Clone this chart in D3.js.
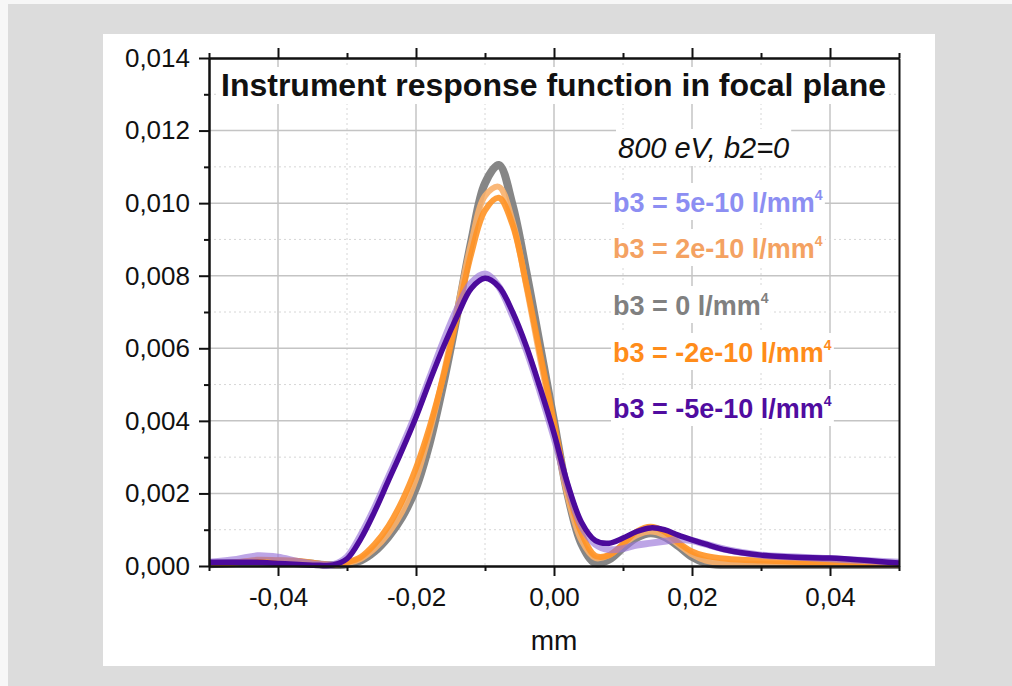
<!DOCTYPE html>
<html>
<head>
<meta charset="utf-8">
<script src="https://cdn.jsdelivr.net/npm/d3@7"></script>
<style>
body { margin: 0; background: #f7f7f7; }
svg { display: block; font-family: "Liberation Sans", Arial, sans-serif; }
</style>
</head>
<body>
<svg id="chart" width="1012" height="686"></svg>
<script>
// x positions in mm (shared by all curves)
var xVals = [-0.050, -0.046, -0.043, -0.040, -0.037, -0.034, -0.032, -0.030, -0.028, -0.026,
             -0.024, -0.022, -0.020, -0.018, -0.016, -0.014, -0.012, -0.010, -0.008, -0.006,
             -0.004, -0.002, 0.000, 0.002, 0.004, 0.006, 0.008, 0.010, 0.012, 0.014,
             0.016, 0.018, 0.020, 0.022, 0.025, 0.030, 0.035, 0.040, 0.045, 0.050];

// b3 = 0
var irfZero = [0.00005, 0.00008, 0.00010, 0.00012, 0.00010, 0.00004, 0.00002, 0.00005, 0.00015, 0.00040,
               0.00080, 0.00135, 0.00215, 0.00340, 0.00505, 0.00695, 0.00895, 0.01055, 0.01105, 0.00995,
               0.00810, 0.00605, 0.00400, 0.00195, 0.00060, 0.00008, 0.00018, 0.00050, 0.00078, 0.00090,
               0.00080, 0.00055, 0.00025, 0.00008, 0.00002, 0.00002, 0.00002, 0.00002, 0.00002, 0.00002];
// b3 = 2e-10
var irfPos2 = [0.00005, 0.00010, 0.00015, 0.00015, 0.00012, 0.00005, 0.00003, 0.00008, 0.00020, 0.00048,
               0.00090, 0.00150, 0.00240, 0.00370, 0.00530, 0.00710, 0.00890, 0.01020, 0.01045, 0.00950,
               0.00770, 0.00570, 0.00380, 0.00190, 0.00070, 0.00022, 0.00030, 0.00060, 0.00085, 0.00095,
               0.00085, 0.00060, 0.00032, 0.00015, 0.00008, 0.00006, 0.00005, 0.00004, 0.00004, 0.00003];
// b3 = -2e-10
var irfNeg2 = [0.00005, 0.00010, 0.00017, 0.00016, 0.00014, 0.00006, 0.00003, 0.00010, 0.00025, 0.00060,
               0.00110, 0.00180, 0.00270, 0.00385, 0.00525, 0.00690, 0.00860, 0.00980, 0.01015, 0.00940,
               0.00775, 0.00585, 0.00395, 0.00210, 0.00090, 0.00028, 0.00030, 0.00060, 0.00095, 0.00108,
               0.00095, 0.00065, 0.00040, 0.00028, 0.00020, 0.00015, 0.00012, 0.00010, 0.00008, 0.00005];
// b3 = 5e-10
var irfPos5 = [0.00010, 0.00018, 0.00028, 0.00024, 0.00012, 0.00004, 0.00004, 0.00025, 0.00085, 0.00160,
               0.00245, 0.00330, 0.00420, 0.00520, 0.00620, 0.00710, 0.00780, 0.00805, 0.00770, 0.00690,
               0.00595, 0.00480, 0.00355, 0.00215, 0.00110, 0.00060, 0.00045, 0.00048, 0.00058, 0.00063,
               0.00068, 0.00073, 0.00070, 0.00060, 0.00045, 0.00030, 0.00025, 0.00020, 0.00015, 0.00010];
// b3 = -5e-10
var irfNeg5 = [0.00010, 0.00010, 0.00010, 0.00007, 0.00004, 0.00002, 0.00003, 0.00020, 0.00075, 0.00150,
               0.00235, 0.00320, 0.00410, 0.00510, 0.00605, 0.00690, 0.00765, 0.00793, 0.00770, 0.00700,
               0.00605, 0.00490, 0.00366, 0.00225, 0.00120, 0.00070, 0.00063, 0.00077, 0.00095, 0.00105,
               0.00100, 0.00085, 0.00072, 0.00060, 0.00044, 0.00030, 0.00024, 0.00022, 0.00016, 0.00008];

var xMajor = [-0.04, -0.02, 0, 0.02, 0.04];
var xMinor = [-0.05, -0.03, -0.01, 0.01, 0.03, 0.05];
var yMajor = [0, 0.002, 0.004, 0.006, 0.008, 0.010, 0.012, 0.014];
var yMinor = [0.001, 0.003, 0.005, 0.007, 0.009, 0.011, 0.013];

var legendTexts = ["b3 = 5e-10 l/mm", "b3 = 2e-10 l/mm", "b3 = 0 l/mm", "b3 = -2e-10 l/mm", "b3 = -5e-10 l/mm"];
var legendColors = ["#8c8ef2", "#f4a262", "#808080", "#ff8c1a", "#500ca0"];

var svg = d3.select("#chart");

// background + white panel
svg.append("rect").attr("x", 8).attr("y", 4).attr("width", 1004).attr("height", 682).attr("fill", "#dcdcdc");
svg.append("rect").attr("x", 103).attr("y", 34).attr("width", 832).attr("height", 632).attr("fill", "#fff");

var x = d3.scaleLinear().domain([-0.05, 0.05]).range([209, 899]);
var y = d3.scaleLinear().domain([0, 0.014]).range([566, 58]);

var loc = d3.formatLocale({decimal: ",", thousands: ".", grouping: [3], currency: ["", ""], minus: "-"});
var fmtX = loc.format(".2f");
var fmtY = loc.format(".3f");

// grid
var grid = svg.append("g");
grid.selectAll(".gx").data(xMajor).enter().append("line")
  .attr("x1", d => x(d)).attr("x2", d => x(d)).attr("y1", y(0.014)).attr("y2", y(0))
  .attr("stroke", "#c4c4c4").attr("stroke-width", 1.5);
grid.selectAll(".gxm").data(xMinor.slice(1, -1)).enter().append("line")
  .attr("x1", d => x(d)).attr("x2", d => x(d)).attr("y1", y(0.014)).attr("y2", y(0))
  .attr("stroke", "#d6d6d6").attr("stroke-width", 1).attr("stroke-dasharray", "2,3");
grid.selectAll(".gy").data(yMajor.slice(1, -1)).enter().append("line")
  .attr("x1", x(-0.05)).attr("x2", x(0.05)).attr("y1", d => y(d)).attr("y2", d => y(d))
  .attr("stroke", "#c4c4c4").attr("stroke-width", 1.5);
grid.selectAll(".gym").data(yMinor).enter().append("line")
  .attr("x1", x(-0.05)).attr("x2", x(0.05)).attr("y1", d => y(d)).attr("y2", d => y(d))
  .attr("stroke", "#d6d6d6").attr("stroke-width", 1).attr("stroke-dasharray", "2,3");

// text with white boxes behind, so grid lines break around them
var boxes = svg.append("g");
var texts = svg.append("g");

function boxedText(tx, ty, str, size, weight, style, color, sup){
  var t = texts.append("text").attr("x", tx).attr("y", ty)
    .attr("font-size", size).attr("font-weight", weight).attr("font-style", style)
    .attr("fill", color).text(str);
  if (sup) {
    t.append("tspan").attr("font-size", 14).attr("dy", -12).text(sup);
  }
  var bb = t.node().getBBox();
  boxes.append("rect").attr("x", bb.x - 2).attr("y", ty - 29).attr("width", bb.width + 4).attr("height", 37)
    .attr("fill", "#fff");
}

boxedText(221, 96, "Instrument response function in focal plane", 32, "bold", "normal", "#111");
boxedText(618, 158, "800 eV, b2=0", 29, "normal", "italic", "#111");
var baseY = [212, 258, 315, 362, 418];
for (var i = 0; i < legendTexts.length; i++) {
  boxedText(613, baseY[i], legendTexts[i], 27, "bold", "normal", legendColors[i], "4");
}

// curves
var curves = [
  {vals: irfZero, color: "#808080", width: 8, op: 0.95},
  {vals: irfPos2, color: "#f9b06a", width: 6, op: 0.9},
  {vals: irfNeg2, color: "#ff9224", width: 6, op: 0.9},
  {vals: irfPos5, color: "#9a74d8", width: 7, op: 0.65},
  {vals: irfNeg5, color: "#4c0a9c", width: 5.5, op: 1}
];
var line = d3.line().x((d, i) => x(xVals[i])).y(d => y(d)).curve(d3.curveCatmullRom.alpha(0.5));

svg.append("clipPath").attr("id", "clip").append("rect")
  .attr("x", 209).attr("y", 58).attr("width", 690).attr("height", 511);
var plot = svg.append("g").attr("clip-path", "url(#clip)");
curves.forEach(function(c){
  plot.append("path").datum(c.vals).attr("d", line)
    .attr("fill", "none").attr("stroke", c.color).attr("stroke-width", c.width)
    .attr("stroke-opacity", c.op).attr("stroke-linejoin", "round");
});

// axes
function styleAxis(g){
  g.select(".domain").attr("stroke", "#111").attr("stroke-width", 2);
  g.selectAll(".tick line").attr("stroke", "#111").attr("stroke-width", 2);
  g.selectAll(".tick text").attr("font-size", 26).attr("fill", "#111").attr("font-family", "Liberation Sans, Arial, sans-serif");
}

svg.append("g").attr("transform", "translate(0,566)")
  .call(d3.axisBottom(x).tickValues(xMajor).tickSize(10).tickSizeOuter(0).tickPadding(12).tickFormat(fmtX))
  .call(styleAxis);
svg.append("g").attr("transform", "translate(0,566)")
  .call(d3.axisBottom(x).tickValues(xMinor).tickSize(5).tickSizeOuter(0).tickFormat(""))
  .call(styleAxis);
svg.append("g").attr("transform", "translate(0,58)")
  .call(d3.axisTop(x).tickValues(xMajor).tickSize(10).tickSizeOuter(0).tickFormat(""))
  .call(styleAxis);
svg.append("g").attr("transform", "translate(0,58)")
  .call(d3.axisTop(x).tickValues(xMinor).tickSize(5).tickSizeOuter(0).tickFormat(""))
  .call(styleAxis);
svg.append("g").attr("transform", "translate(209,0)")
  .call(d3.axisLeft(y).tickValues(yMajor).tickSize(10).tickSizeOuter(0).tickPadding(9).tickFormat(fmtY))
  .call(styleAxis);
svg.append("g").attr("transform", "translate(209,0)")
  .call(d3.axisLeft(y).tickValues(yMinor).tickSize(5).tickSizeOuter(0).tickFormat(""))
  .call(styleAxis);
svg.append("g").attr("transform", "translate(899,0)")
  .call(d3.axisRight(y).tickValues([]).tickSizeOuter(0))
  .call(styleAxis);

svg.append("text").attr("x", 554).attr("y", 650).attr("text-anchor", "middle")
  .attr("font-size", 28).attr("fill", "#111").text("mm");
</script>
</body>
</html>
